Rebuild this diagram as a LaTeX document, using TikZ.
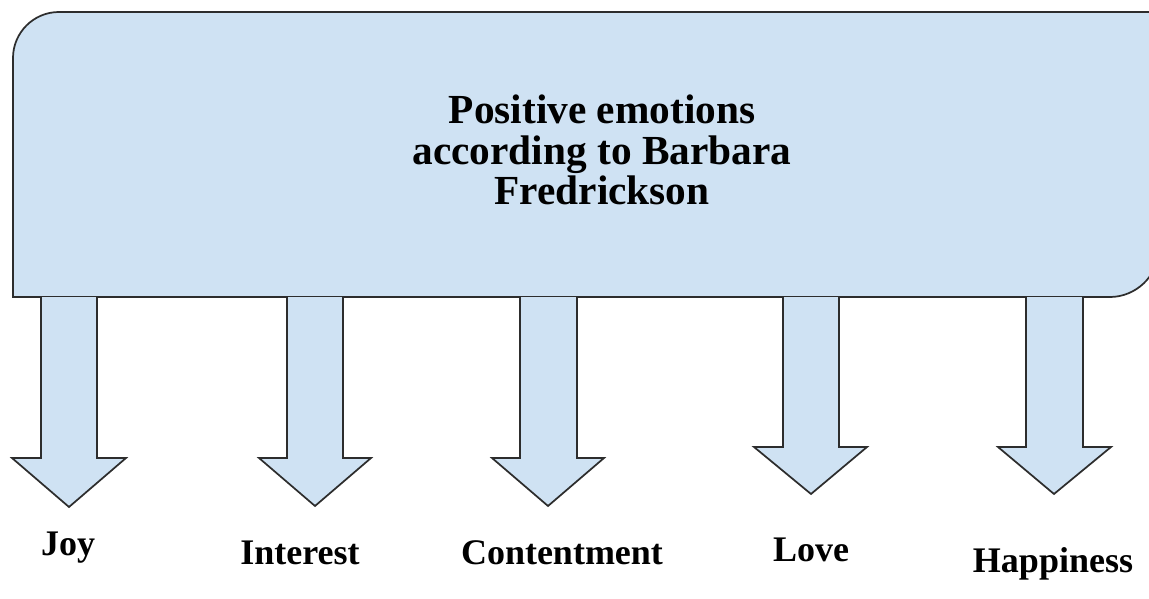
\documentclass[tikz,border=0pt]{standalone}
\usepackage{fontspec}
\setmainfont{Liberation Serif}
\definecolor{boxblue}{RGB}{207,226,243}
\definecolor{edgegray}{RGB}{45,45,45}
\tikzset{every picture/.style={line width=1.3pt}}
\tikzset{
  blockshape/.style={draw=edgegray, fill=boxblue, line join=miter},
  emotion/.style={font=\fontsize{27}{30}\selectfont\bfseries, anchor=base, inner sep=0pt}
}

\begin{document}
\begin{tikzpicture}[x=0.75pt,y=0.75pt,yscale=-1,xscale=1]
	%set diagram size
	\clip (0,0) rectangle (1149,599);

	%Shape: Round Diagonal Corner Rectangle
	\draw [blockshape] (13,58) .. controls (13,32.6) and (33.6,12) .. (59,12) -- (1158,12) -- (1158,251) .. controls (1158,276.4) and (1135.4,297) .. (1110,297) -- (13,297) -- cycle ;

	%Shape: Down Arrow (joy)
	\draw [blockshape] (41,297) -- (41,458) -- (12,458) -- (69,507) -- (126,458) -- (97,458) -- (97,297) ;
	%Shape: Down Arrow (interest)
	\draw [blockshape] (287,297) -- (287,458) -- (259,458) -- (315,506) -- (371,458) -- (343,458) -- (343,297) ;
	%Shape: Down Arrow (contentment)
	\draw [blockshape] (520,297) -- (520,458) -- (492,458) -- (548,506) -- (604,458) -- (577,458) -- (577,297) ;
	%Shape: Down Arrow (love)
	\draw [blockshape] (783,297) -- (783,447) -- (754,447) -- (811,494) -- (867,447) -- (839,447) -- (839,297) ;
	%Shape: Down Arrow (happiness)
	\draw [blockshape] (1026,297) -- (1026,447) -- (998,447) -- (1054,494) -- (1111,447) -- (1083,447) -- (1083,297) ;

	% Text Node
	\node (title) [font=\fontsize{31}{30.5}\selectfont\bfseries, align=center, inner sep=0pt] at (602,150) {Positive emotions\\according to Barbara\\Fredrickson};
	% Text Node
	\node (joy) [emotion] at (68,555) {Joy};
	% Text Node
	\node (interest) [emotion] at (300,564) {Interest};
	% Text Node
	\node (contentment) [emotion] at (562,564) {Contentment};
	% Text Node
	\node (love) [emotion] at (811,561) {Love};
	% Text Node
	\node (happiness) [emotion] at (1053,572) {Happiness};

\end{tikzpicture}
\end{document}
